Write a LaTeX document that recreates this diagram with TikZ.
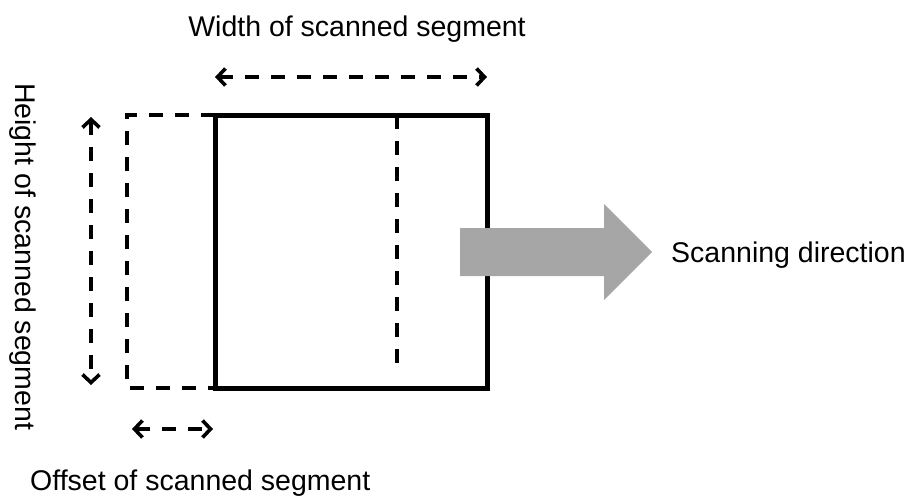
\documentclass[tikz,border=0pt]{standalone}
\usepackage{fontspec}
\setmainfont{Liberation Sans}
\usetikzlibrary{arrows.meta}
\tikzstyle{lbl}=[inner sep=0pt,font=\fontsize{28.5}{34}\selectfont]
\tikzstyle{guide}=[line width=3.6pt,dash pattern=on 14pt off 12pt]
\tikzstyle{dimarrow}=[guide,{Straight Barb[length=8pt,width=17pt]}-{Straight Barb[length=8pt,width=17pt]}]
\tikzstyle{segbox}=[line width=5pt]
\definecolor{dirgray}{HTML}{A6A6A6}

\begin{document}
\begin{tikzpicture}[x=1pt,y=-1pt]
\useasboundingbox (0,0) rectangle (912,495);
% corners of the scanned segment
\coordinate (TL) at (215,115); \coordinate (TR) at (487,115);
\coordinate (BL) at (215,388); \coordinate (BR) at (487,388);
\coordinate (OTL) at (127,115); \coordinate (OBL) at (127,388);
\coordinate (MT) at (397,115); \coordinate (MB) at (397,375);
% ends of the dimension arrows
\coordinate (wl) at (215,77); \coordinate (wr) at (487,77);
\coordinate (ht) at (91,117); \coordinate (hb) at (91,385);
\coordinate (ol) at (132,429); \coordinate (or) at (213,429);
\node[lbl,anchor=base] (wtxt) at (357,37) {Width of scanned segment};
\node[lbl,anchor=base west,rotate=-90] (htxt) at (15,83) {Height of scanned segment};
\node[lbl,anchor=base west] (stxt) at (671,262) {Scanning direction};
\node[lbl,anchor=base west] (otxt) at (30,490) {Offset of scanned segment};
\draw[guide](TL)--(OTL)--(OBL)--(BL);\draw[guide](MT)--(MB);
\draw[segbox](TL) rectangle (BR);
\draw[dimarrow](wl)--(wr);\draw[dimarrow](ht)--(hb);\draw[dimarrow](ol)--(or);
\fill[dirgray](460,228)--(604,228)--(604,204)--(652,252)--(604,300)--(604,276)--(460,276)--cycle;
\end{tikzpicture}
\end{document}
